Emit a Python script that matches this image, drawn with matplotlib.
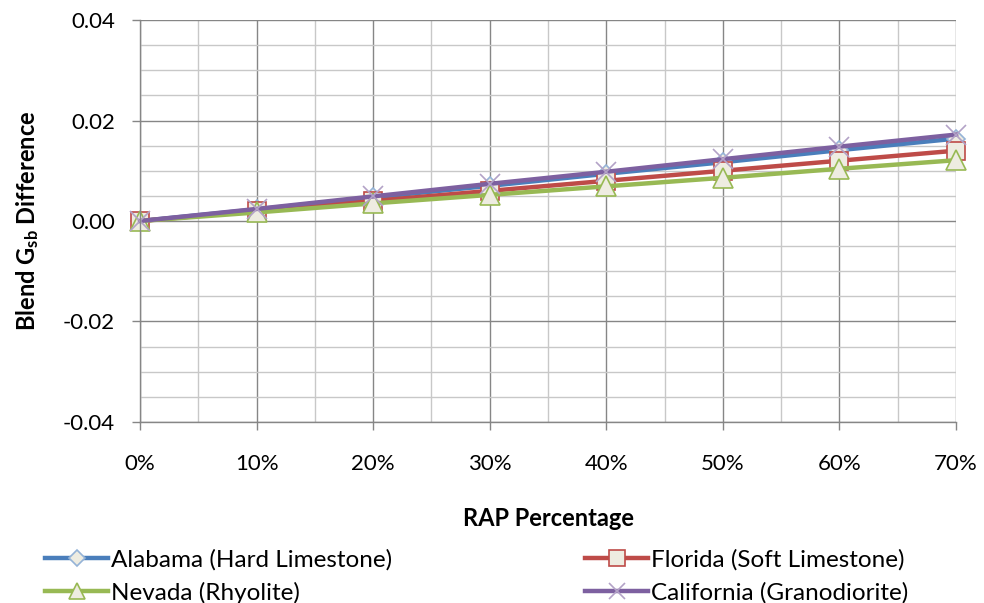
import numpy as np
import matplotlib
matplotlib.use('Agg')
import matplotlib.pyplot as plt
from matplotlib.ticker import MultipleLocator, FuncFormatter

plt.rcParams['font.family'] = ['Lato', 'DejaVu Sans']
plt.rcParams['mathtext.fontset'] = 'custom'
plt.rcParams['mathtext.rm'] = 'Lato'
plt.rcParams['mathtext.bf'] = 'Lato:bold'

# RAP 비율 (%)
rap = [0, 10, 20, 30, 40, 50, 60, 70]

# 골재 종류별 Blend Gsb 차이
alabama = [0.0, 0.0023, 0.0047, 0.0070, 0.0094, 0.0117, 0.0141, 0.0164]
florida = [0.0, 0.0020, 0.0040, 0.0060, 0.0080, 0.0100, 0.0120, 0.0140]
nevada = [0.0, 0.0017, 0.0035, 0.0052, 0.0069, 0.0086, 0.0104, 0.0121]
california = [0.0, 0.0024, 0.0049, 0.0074, 0.0098, 0.0123, 0.0148, 0.0172]

names = ['Alabama (Hard Limestone)', 'Florida (Soft Limestone)',
         'Nevada (Rhyolite)', 'California (Granodiorite)']

fig = plt.figure(figsize=(9.84, 6.03), dpi=100)
ax = fig.add_axes([0.1423, 0.3002, 0.8293, 0.6666])

fill = '#EEECE1'
l1, = ax.plot(rap, alabama, color='#4A7EBB', lw=3.2, marker='D', ms=9,
              mfc=fill, mec='#95B3D7', mew=1.2, label=names[0])
l2, = ax.plot(rap, florida, color='#BE4B48', lw=3.2, marker='s', ms=13,
              mfc=fill, mec='#BE4B48', mew=1.2, label=names[1])
l3, = ax.plot(rap, nevada, color='#98B954', lw=3.2, marker='^', ms=14,
              mfc=fill, mec='#98B954', mew=1.2, label=names[2])
l4, = ax.plot(rap, california, color='#7D60A0', lw=3.2, marker='x', ms=14,
              mec='#B3A2C7', mew=1.2, label=names[3])
for l in (l1, l2, l3, l4):
    l.set_clip_on(False)

ax.set_xlim(0, 70)
ax.set_ylim(-0.04, 0.04)
ax.xaxis.set_major_locator(MultipleLocator(10))
ax.xaxis.set_minor_locator(MultipleLocator(5))
ax.yaxis.set_major_locator(MultipleLocator(0.02))
ax.yaxis.set_minor_locator(MultipleLocator(0.005))
ax.xaxis.set_major_formatter(FuncFormatter(lambda v, p: f'{v:.0f}%'))
ax.yaxis.set_major_formatter(FuncFormatter(lambda v, p: f'{v:.2f}'))

ax.grid(which='major', color='#868686', lw=1.0)
ax.grid(which='minor', color='#C8C8C8', lw=1.0)
ax.set_axisbelow(True)
for s in ('top', 'right'):
    ax.spines[s].set_visible(False)
for s in ('left', 'bottom'):
    ax.spines[s].set_color('#868686')
    ax.spines[s].set_linewidth(1.0)

ax.tick_params(axis='x', which='major', length=6, width=1, color='#868686',
               pad=17, labelsize=16)
ax.tick_params(axis='y', which='major', length=6, width=1, color='#868686',
               pad=12, labelsize=16)
ax.tick_params(which='minor', length=0)

ax.set_xlabel('RAP Percentage', fontsize=17, fontweight='bold', labelpad=24)
ax.set_ylabel(r'Blend $\mathbf{G_{sb}}$ Difference', fontsize=17,
              fontweight='bold', labelpad=16)

# 범례 두 칸: 왼쪽 (Alabama, Nevada), 오른쪽 (Florida, California)
leg_kw = dict(loc='center left', frameon=False, fontsize=17.5,
              handlelength=2.6, handletextpad=0.1, labelspacing=0.45,
              borderpad=0, borderaxespad=0, markerscale=0.85)
leg1 = fig.legend([l1, l3], [names[0], names[2]],
                  bbox_to_anchor=(0.0457, 0.044), **leg_kw)
leg2 = fig.legend([l2, l4], [names[1], names[3]],
                  bbox_to_anchor=(0.5945, 0.044), **leg_kw)

fig.savefig('out.png', dpi=100)
